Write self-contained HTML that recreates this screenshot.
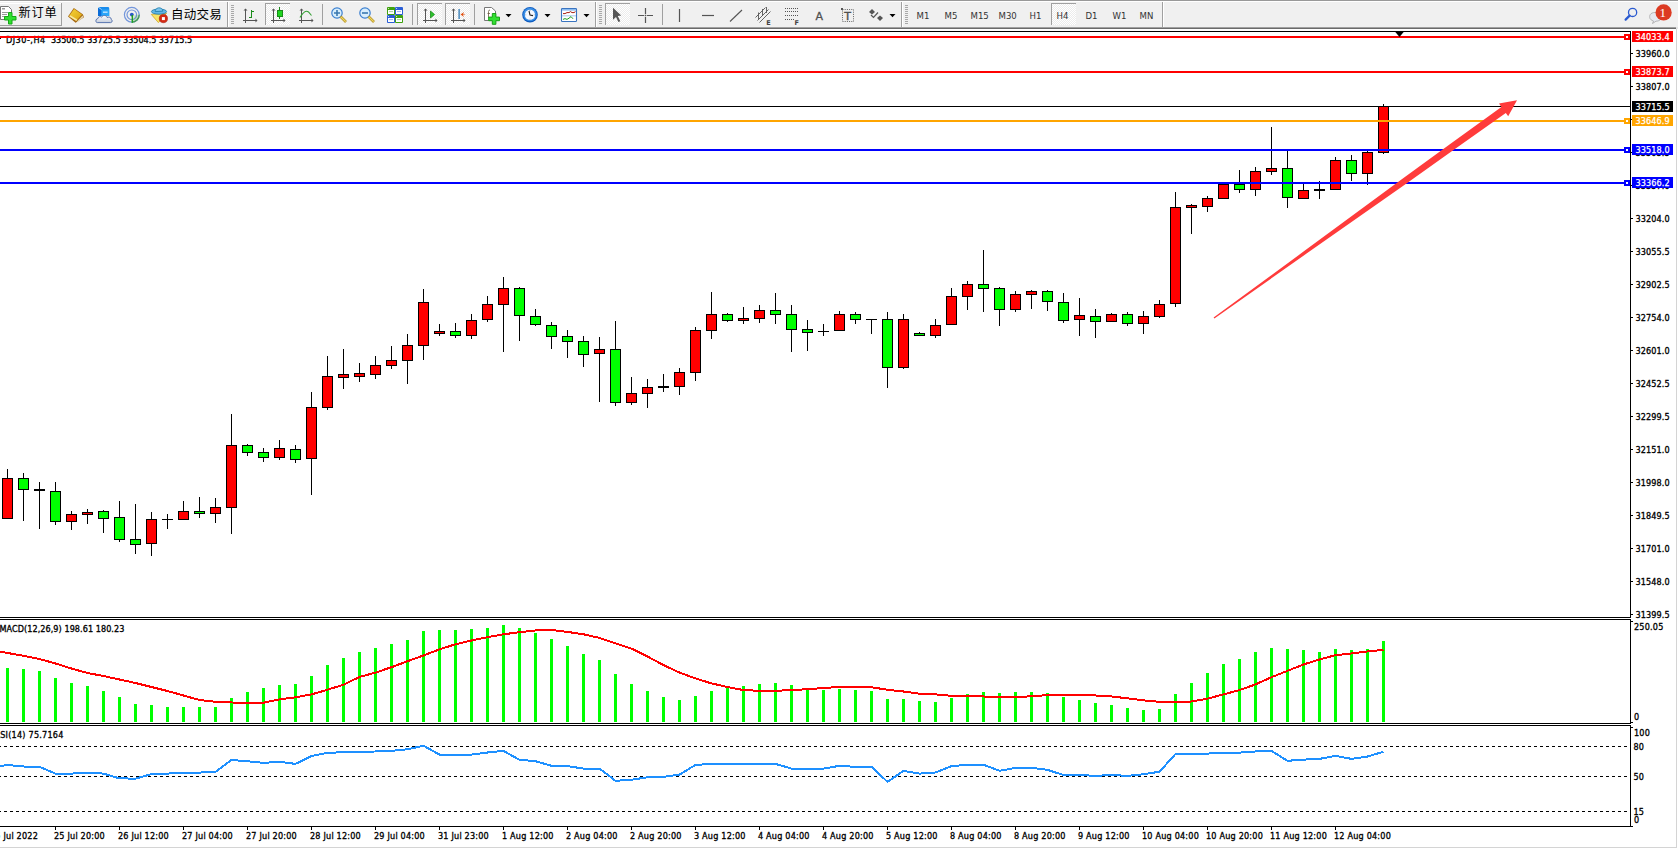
<!DOCTYPE html>
<html><head><meta charset="utf-8"><title>MT4 DJ30 H4</title>
<style>
html,body{margin:0;padding:0;background:#fff;}
body{width:1678px;height:849px;overflow:hidden;position:relative;}
svg{position:absolute;left:0;top:0;display:block;}
#chart text[fill="#000"]{stroke:#000;stroke-width:.3px;}
#chart text[fill="#fff"]{stroke:#fff;stroke-width:.25px;}
</style></head><body>
<svg width="1678" height="849" viewBox="0 0 1678 849" shape-rendering="crispEdges">
<rect x="0" y="0" width="1678" height="849" fill="#fff"/>
<g id="toolbar">
<rect x="0" y="0" width="1678" height="1" fill="#999"/>
<rect x="0" y="1" width="1678" height="1" fill="#fff"/>
<rect x="0" y="2" width="1678" height="25" fill="#f0f0f0"/>
<rect x="0" y="27" width="1676" height="1" fill="#a0a0a0"/>
<rect x="0" y="28" width="1676" height="1" fill="#6a6a6a"/>
<rect x="1676" y="27" width="2" height="2" fill="#e4e4e4"/>
<g shape-rendering="auto">
<!-- 新订单 button -->
<rect x="0" y="3" width="61" height="1" fill="#ffffff" shape-rendering="crispEdges"/>
<rect x="61" y="3" width="1" height="23" fill="#a0a0a0" shape-rendering="crispEdges"/>
<rect x="0" y="25" width="61" height="1" fill="#a0a0a0" shape-rendering="crispEdges"/>
<path d="M0.5,6.5 H8.5 L11.5,9.5 V19.5 H0.5 Z" fill="#fff" stroke="#777" stroke-width="1"/>
<rect x="2" y="8" width="3" height="1.5" fill="#999"/>
<rect x="2" y="12" width="6" height="1" fill="#999"/>
<rect x="2" y="14" width="5" height="1" fill="#999"/>
<rect x="2" y="16" width="3" height="1" fill="#999"/>
<path d="M8.5,12.5 h3.5 v4 h4 v3.5 h-4 v4 h-3.5 v-4 h-4 v-3.5 h4 z" fill="#2fe02f" stroke="#14a614" stroke-width="1"/>
<text x="18.5" y="16.7" font-family="'Noto Sans CJK SC',sans-serif" font-size="12.2px" letter-spacing="0.8" fill="#000">新订单</text>
<!-- gold book -->
<defs>
<linearGradient id="gbk" x1="0" y1="0" x2="1" y2="1"><stop offset="0" stop-color="#f6d23a"/><stop offset="1" stop-color="#d9a512"/></linearGradient>
<linearGradient id="cld" x1="0" y1="0" x2="0" y2="1"><stop offset="0" stop-color="#ffffff"/><stop offset="1" stop-color="#c4cddc"/></linearGradient>
</defs>
<path d="M68,16.6 L73.8,8 L82.8,14.2 L84,17.2 L75.6,22.8 Z" fill="#a86a12"/>
<path d="M69,16.2 L74.1,9 L82,14.4 L76.2,20.8 Z" fill="url(#gbk)"/>
<path d="M69.3,16.6 L70.3,15.2 L77.3,19.6 L76.3,21 Z" fill="#f8e7a0"/>
<path d="M77,21.6 L82.6,15.4 L83.5,17 L77.6,22.3 Z" fill="#e6d8b0"/>
<!-- blue box + cloud -->
<path d="M98,8 L99.5,7 L108.5,7 L109.2,8 L109.2,16 L98,16 Z" fill="#1a8cec"/>
<path d="M98,8 L101.5,9.5 L101.5,16 L98,16 Z" fill="#0a6cd8"/>
<path d="M101.5,9.5 L109.2,9.5 L109.2,16 L101.5,16 Z" fill="#2aa6fa"/>
<path d="M98.8,7.6 L101.6,9.6" stroke="#d8f0ff" stroke-width="0.7"/>
<rect x="103" y="11.6" width="4.6" height="1.1" fill="#e8f6ff"/>
<path d="M97.3,22.6 C95.3,22.6 95.4,18.7 97.9,18.5 C98.2,16.6 100.6,16 101.6,17.2 C102.4,14.8 106.6,14.8 107.3,17.6 C108.4,16.6 111.4,17.2 111.3,19.4 C112.6,20 112.4,22.6 110.6,22.6 Z" fill="url(#cld)" stroke="#4a68a8" stroke-width="0.9"/>
<!-- signal -->
<defs><linearGradient id="sgq" x1="0" y1="0" x2="1" y2="1"><stop offset="0" stop-color="#e8f4e0"/><stop offset="1" stop-color="#7cc86c"/></linearGradient></defs>
<path d="M131.8,14.8 L131.8,22.8 A8,8 0 0 0 139.8,14.8 Z" fill="url(#sgq)" opacity="0.85"/>
<circle cx="131.8" cy="14.8" r="7.4" fill="none" stroke="#4a78d4" stroke-width="1.2" opacity="0.75"/>
<circle cx="131.8" cy="14.8" r="4.8" fill="none" stroke="#4a78d4" stroke-width="1.2" opacity="0.75"/>
<path d="M131.8,22.2 A7.4,7.4 0 0 0 139.2,14.8" fill="none" stroke="#3c9a3c" stroke-width="1.2" opacity="0.8"/>
<circle cx="131.8" cy="14.6" r="1.9" fill="#2a58c8"/>
<path d="M132.3,15 V22.8" stroke="#1ea01e" stroke-width="1.4"/>
<!-- auto trading -->
<path d="M151.3,14.4 L166.6,13.2 L158.4,22.6 Z" fill="#f8e468" stroke="#d2a624" stroke-width="0.8" stroke-linejoin="round"/>
<ellipse cx="159" cy="11.6" rx="7.6" ry="2.6" fill="#62b6e6" stroke="#1a78a8" stroke-width="0.8"/>
<path d="M155.2,11.6 C155.2,6.6 162.8,6.6 162.8,11.2 Z" fill="#7cc6ee" stroke="#1a78a8" stroke-width="0.8"/>
<circle cx="163.4" cy="18.6" r="4.1" fill="#d42a14" stroke="#a81a0c" stroke-width="0.6"/>
<rect x="161.9" y="17.1" width="3" height="3" fill="#fff"/>
<text x="170.9" y="18.8" font-family="'Noto Sans CJK SC',sans-serif" font-size="12.5px" letter-spacing="0.3" fill="#000">自动交易</text>
</g>
<g shape-rendering="crispEdges">
<!-- separators -->
<rect x="227" y="2" width="1" height="25" fill="#a0a0a0"/><rect x="228" y="2" width="1" height="25" fill="#fff"/>
<rect x="322" y="4" width="1" height="21" fill="#a0a0a0"/>
<rect x="412" y="4" width="1" height="21" fill="#a0a0a0"/>
<rect x="474" y="4" width="1" height="21" fill="#a0a0a0"/>
<rect x="595" y="2" width="1" height="25" fill="#a0a0a0"/><rect x="596" y="2" width="1" height="25" fill="#fff"/>
<rect x="662" y="4" width="1" height="21" fill="#a0a0a0"/>
<rect x="901" y="2" width="1" height="25" fill="#a0a0a0"/><rect x="902" y="2" width="1" height="25" fill="#fff"/>
<rect x="1162" y="2" width="1" height="25" fill="#a0a0a0"/><rect x="1163" y="2" width="1" height="25" fill="#fff"/>
<!-- grippers -->
<g fill="#a8a8a8">
<rect x="231" y="5" width="3" height="1"/><rect x="231" y="7" width="3" height="1"/><rect x="231" y="9" width="3" height="1"/><rect x="231" y="11" width="3" height="1"/><rect x="231" y="13" width="3" height="1"/><rect x="231" y="15" width="3" height="1"/><rect x="231" y="17" width="3" height="1"/><rect x="231" y="19" width="3" height="1"/><rect x="231" y="21" width="3" height="1"/><rect x="231" y="23" width="3" height="1"/>
<rect x="599" y="5" width="3" height="1"/><rect x="599" y="7" width="3" height="1"/><rect x="599" y="9" width="3" height="1"/><rect x="599" y="11" width="3" height="1"/><rect x="599" y="13" width="3" height="1"/><rect x="599" y="15" width="3" height="1"/><rect x="599" y="17" width="3" height="1"/><rect x="599" y="19" width="3" height="1"/><rect x="599" y="21" width="3" height="1"/><rect x="599" y="23" width="3" height="1"/>
<rect x="905" y="5" width="3" height="1"/><rect x="905" y="7" width="3" height="1"/><rect x="905" y="9" width="3" height="1"/><rect x="905" y="11" width="3" height="1"/><rect x="905" y="13" width="3" height="1"/><rect x="905" y="15" width="3" height="1"/><rect x="905" y="17" width="3" height="1"/><rect x="905" y="19" width="3" height="1"/><rect x="905" y="21" width="3" height="1"/><rect x="905" y="23" width="3" height="1"/>
</g>
<!-- pressed buttons -->
<defs><pattern id="chk" x="0" y="0" width="2" height="2" patternUnits="userSpaceOnUse"><rect width="2" height="2" fill="#fff"/><rect x="1" y="0" width="1" height="1" fill="#ececec"/><rect x="0" y="1" width="1" height="1" fill="#ececec"/></pattern></defs>
<g>
<rect x="265" y="3" width="25" height="22" fill="url(#chk)"/><rect x="265" y="3" width="25" height="1" fill="#a0a0a0"/><rect x="265" y="3" width="1" height="22" fill="#a0a0a0"/>
<rect x="417" y="3" width="25" height="22" fill="url(#chk)"/><rect x="417" y="3" width="25" height="1" fill="#a0a0a0"/><rect x="417" y="3" width="1" height="22" fill="#a0a0a0"/>
<rect x="445" y="3" width="25" height="22" fill="url(#chk)"/><rect x="445" y="3" width="25" height="1" fill="#a0a0a0"/><rect x="445" y="3" width="1" height="22" fill="#a0a0a0"/>
<rect x="605" y="3" width="25" height="22" fill="url(#chk)"/><rect x="605" y="3" width="25" height="1" fill="#a0a0a0"/><rect x="605" y="3" width="1" height="22" fill="#a0a0a0"/>
<rect x="1051" y="3" width="25" height="22" fill="url(#chk)"/><rect x="1051" y="3" width="25" height="1" fill="#a0a0a0"/><rect x="1051" y="3" width="1" height="22" fill="#a0a0a0"/>
</g>
<!-- chart type icons: axes -->
<g fill="#555">
<rect x="245" y="10" width="1" height="13"/><rect x="243" y="20" width="14" height="1"/>
<rect x="273" y="10" width="1" height="13"/><rect x="271" y="20" width="14" height="1"/>
<rect x="301" y="10" width="1" height="13"/><rect x="299" y="20" width="14" height="1"/>
<rect x="425" y="10" width="1" height="13"/><rect x="423" y="20" width="14" height="1"/>
<rect x="453" y="10" width="1" height="13"/><rect x="451" y="20" width="14" height="1"/>
</g>
<!-- bar chart glyph -->
<g fill="#1a8c1a"><rect x="251" y="10" width="1" height="8"/><rect x="252" y="11" width="2" height="1"/><rect x="249" y="17" width="2" height="1"/></g>
<!-- candle glyph -->
<rect x="279" y="7" width="1" height="12" fill="#1a8c1a"/>
<rect x="277" y="10" width="5" height="6" fill="#22d622" stroke="#1a8c1a" stroke-width="1"/>
</g>
<g shape-rendering="auto">
<!-- line chart glyph -->
<path d="M300,17.5 Q305,9 308.5,12 L311.5,15.5" fill="none" stroke="#33a033" stroke-width="1.1"/>
<!-- axes arrows -->
<g fill="#555">
<path d="M243.5,10.5 L245.5,8.5 L247.5,10.5 Z"/><path d="M255.5,18.5 L257.5,20.5 L255.5,22.5 Z"/>
<path d="M271.5,10.5 L273.5,8.5 L275.5,10.5 Z"/><path d="M283.5,18.5 L285.5,20.5 L283.5,22.5 Z"/>
<path d="M299.5,10.5 L301.5,8.5 L303.5,10.5 Z"/><path d="M311.5,18.5 L313.5,20.5 L311.5,22.5 Z"/>
<path d="M423.5,10.5 L425.5,8.5 L427.5,10.5 Z"/><path d="M435.5,18.5 L437.5,20.5 L435.5,22.5 Z"/>
<path d="M451.5,10.5 L453.5,8.5 L455.5,10.5 Z"/><path d="M463.5,18.5 L465.5,20.5 L463.5,22.5 Z"/>
</g>
<!-- zoom in / out -->
<circle cx="337" cy="13" r="5.2" fill="#d8eefc" stroke="#3a7fd0" stroke-width="1.2"/>
<path d="M340.5,16.5 L346,22" stroke="#b8962a" stroke-width="2.6"/><path d="M340.8,16.8 L345.7,21.7" stroke="#f0d860" stroke-width="1.2"/>
<path d="M334,13 h6 M337,10 v6" stroke="#3a78b0" stroke-width="1.6"/>
<circle cx="365" cy="13" r="5.2" fill="#d8eefc" stroke="#3a7fd0" stroke-width="1.2"/>
<path d="M368.5,16.5 L374,22" stroke="#b8962a" stroke-width="2.6"/><path d="M368.8,16.8 L373.7,21.7" stroke="#f0d860" stroke-width="1.2"/>
<path d="M362,13 h6" stroke="#3a78b0" stroke-width="1.6"/>
<!-- tile windows -->
<rect x="387" y="7" width="8" height="8" rx="1" fill="#3fa20e"/><rect x="395" y="7" width="8" height="8" rx="1" fill="#2a5ed6"/>
<rect x="387" y="15" width="8" height="8" rx="1" fill="#2a5ed6"/><rect x="395" y="15" width="8" height="8" rx="1" fill="#3fa20e"/>
<g fill="#fff"><rect x="388" y="10" width="6" height="4"/><rect x="396" y="10" width="6" height="4"/><rect x="388" y="18" width="6" height="4"/><rect x="396" y="18" width="6" height="4"/>
<circle cx="388.6" cy="8.4" r="0.5"/><circle cx="396.6" cy="8.4" r="0.5"/><circle cx="388.6" cy="16.4" r="0.5"/><circle cx="396.6" cy="16.4" r="0.5"/></g>
<g fill="#9ccc88"><rect x="389" y="11.2" width="4" height="0.9"/><rect x="397" y="19.2" width="4" height="0.9"/></g>
<g fill="#8aa6e8"><rect x="397" y="11.2" width="4" height="0.9"/><rect x="389" y="19.2" width="4" height="0.9"/></g>
<!-- autoscroll glyph -->
<path d="M430.5,11 L434.5,14.5 L430.5,18 Z" fill="#2ec42e" stroke="#1a8c1a" stroke-width="0.8"/>
<!-- shift glyph -->
<rect x="458.5" y="9" width="1.2" height="10" fill="#1f6fb0"/>
<path d="M460.5,14.5 L464,12 L463,14.5 L465,14.5 L465,15 L463,15 L464,17 Z" fill="#e05010"/>
<!-- indicators icon -->
<path d="M484.5,7.5 H491.5 L495.5,11 V20.5 H484.5 Z" fill="#fff" stroke="#777"/>
<path d="M488.5,18 V11.5 Q488.5,10 490,10 M487.5,13.5 H490" fill="none" stroke="#6a5a40" stroke-width="0.8"/>
<path d="M492.3,13.5 h3.6 v3.6 h3.6 v3.6 h-3.6 v3.6 h-3.6 v-3.6 h-3.6 v-3.6 h3.6 z" fill="#32e032" stroke="#16a016"/>
<path d="M505.5,14 h6 l-3,3.2 z" fill="#000"/>
<!-- clock -->
<circle cx="530" cy="14.8" r="7.8" fill="#0f5cc0"/><circle cx="530" cy="14.5" r="6.8" fill="#3a8ee4"/><circle cx="530" cy="14.9" r="5.1" fill="#f6f9ff"/>
<g fill="#7a8aa0"><rect x="529.6" y="10.2" width="0.8" height="0.8"/><rect x="529.6" y="18.8" width="0.8" height="0.8"/><rect x="525.4" y="14.5" width="0.8" height="0.8"/><rect x="533.8" y="14.5" width="0.8" height="0.8"/></g>
<path d="M529,11 L530,15 L533,15.6" fill="none" stroke="#222" stroke-width="1.1"/>
<path d="M544.5,14 h6 l-3,3.2 z" fill="#000"/>
<!-- templates -->
<rect x="561.5" y="8.5" width="15" height="13" rx="0.8" fill="#fff" stroke="#3a74c0" stroke-width="1.1"/>
<rect x="562" y="9" width="14" height="1.6" fill="#8cbcf0"/>
<rect x="562" y="15.4" width="14" height="0.9" fill="#9cc0e8"/>
<path d="M563,13.6 l2,0 l2,-1 l2,0 l1.5,-1 l1.5,1 l2,0 l1.5,-1" fill="none" stroke="#a82010" stroke-width="1"/>
<path d="M563,19.4 l2,-0.8 l2,0.8 l2,-1.2 l2,-1.6 l2,2.2" fill="none" stroke="#20a020" stroke-width="1"/>
<path d="M583.5,14 h6 l-3,3.2 z" fill="#000"/>
<!-- cursor -->
<path d="M613,7.8 L621.2,15.6 L617.8,15.9 L620.3,21.2 L618.4,22.1 L616,16.9 L613,19.8 Z" fill="#555"/>
<!-- crosshair -->
<path d="M645.5,8 V14.3 M645.5,16.7 V23 M638,15.5 H644.3 M646.7,15.5 H653" stroke="#555" stroke-width="1.2"/><rect x="645" y="15" width="1" height="1" fill="#555"/>
<!-- vertical / horizontal / trend lines -->
<path d="M679.5,9 V22" stroke="#555" stroke-width="1.2"/>
<path d="M702,15.5 H714" stroke="#555" stroke-width="1.2"/>
<path d="M730,21.5 L742,10" stroke="#555" stroke-width="1.1"/>
<!-- channel E -->
<path d="M755.5,17.5 L765.5,7.5 M757.5,20.5 L768.5,9.5 M759.5,22.5 L770.5,11.5" stroke="#555" stroke-width="0.9"/>
<path d="M758.5,12.5 V19 M762.5,9 V16 M766.5,7 V13" stroke="#555" stroke-width="0.9"/>
<text x="766.2" y="24.6" font-family="'DejaVu Sans',sans-serif" font-weight="bold" font-size="6.5px" fill="#444">E</text>
<!-- fibo F -->
<g stroke="#555" stroke-width="1" stroke-dasharray="1,1"><path d="M785,8.5 H798"/><path d="M785,11.5 H798"/><path d="M785,15.5 H798"/><path d="M785,19.5 H794"/></g>
<text x="794.5" y="24.5" font-family="'DejaVu Sans',sans-serif" font-weight="bold" font-size="6.5px" fill="#444">F</text>
<!-- A -->
<text x="815.6" y="20" font-family="'DejaVu Sans',sans-serif" font-size="11px" fill="#505050" stroke="#505050" stroke-width="0.3">A</text>
<!-- T label -->
<rect x="842.5" y="9.5" width="11" height="12" fill="none" stroke="#555" stroke-width="0.9" stroke-dasharray="1,1.2"/>
<rect x="841" y="8" width="2" height="2" fill="#555"/>
<text x="844.3" y="20" font-family="'DejaVu Sans',sans-serif" font-size="11px" fill="#505050" stroke="#505050" stroke-width="0.4">T</text>
<!-- arrows icon -->
<path d="M869,12 L872,9 L875,12 L872,14.5 Z" fill="#555"/>
<path d="M877,18 L880,15.5 L883,18 L880,21 Z" fill="#555"/>
<path d="M871,15 L873.5,17.5 L878,12.5" fill="none" stroke="#555" stroke-width="1.2"/>
<path d="M889.5,14 h6 l-3,3.2 z" fill="#000"/>
</g>
<!-- timeframes -->
<g font-family="'DejaVu Sans Condensed','Liberation Sans',sans-serif" font-size="9.5px" fill="#333">
<text x="916.5" y="19">M1</text><text x="944.5" y="19">M5</text><text x="970.5" y="19">M15</text><text x="998.5" y="19">M30</text>
<text x="1029.5" y="19">H1</text><text x="1056.5" y="19">H4</text><text x="1085.5" y="19">D1</text><text x="1112.5" y="19">W1</text><text x="1139.5" y="19">MN</text>
</g>
<!-- search -->
<g shape-rendering="auto">
<circle cx="1632.6" cy="12.4" r="4.1" fill="none" stroke="#2a5ad0" stroke-width="1.3"/>
<path d="M1629.6,15.6 L1625.6,19.6" stroke="#2a5ad0" stroke-width="2.2" stroke-linecap="round"/>
<!-- notification -->
<path d="M1655,12.5 C1650,12.5 1649,16 1650,18.5 C1651,20.5 1653,20.5 1653.5,21 L1652.5,23.5 L1656,21.2 C1659,21.3 1661.5,19.5 1661.5,17 C1661.5,14 1659,12.5 1655,12.5 Z" fill="#e6e8f0" stroke="#a8a8a8" stroke-width="0.8"/>
<circle cx="1663.6" cy="12.4" r="8.1" fill="#dc3a22"/>
<text x="1659.6" y="17.2" font-family="'Liberation Serif',serif" font-size="13px" fill="#fff">1</text>
</g>

</g>
<g id="chart">
<rect x="0" y="31" width="1630" height="1" fill="#000"/>
<rect x="1630" y="31" width="1" height="587" fill="#000"/>
<rect x="0" y="617" width="1630" height="1" fill="#000"/>
<rect x="0" y="619" width="1631" height="1" fill="#000"/>
<rect x="1630" y="619" width="1" height="105" fill="#000"/>
<rect x="0" y="723" width="1630" height="1" fill="#000"/>
<rect x="0" y="725" width="1631" height="1" fill="#000"/>
<rect x="1630" y="725" width="1" height="102" fill="#000"/>
<rect x="0" y="826" width="1630" height="1" fill="#000"/>
<rect x="0" y="38" width="1" height="1" fill="#000"/>
<text x="6.0" y="43" font-family="'DejaVu Sans Condensed','Liberation Sans',sans-serif" font-size="9px" letter-spacing="0.5" fill="#000">DJ30-,H4</text>
<text x="50.9" y="43" font-family="'DejaVu Sans Condensed','Liberation Sans',sans-serif" font-size="9px" letter-spacing="0" fill="#000">33506.5</text>
<text x="87.2" y="43" font-family="'DejaVu Sans Condensed','Liberation Sans',sans-serif" font-size="9px" letter-spacing="0" fill="#000">33725.5</text>
<text x="123.0" y="43" font-family="'DejaVu Sans Condensed','Liberation Sans',sans-serif" font-size="9px" letter-spacing="0" fill="#000">33504.5</text>
<text x="158.7" y="43" font-family="'DejaVu Sans Condensed','Liberation Sans',sans-serif" font-size="9px" letter-spacing="0" fill="#000">33715.5</text>
<rect x="7" y="469" width="1" height="50" fill="#000"/>
<rect x="2" y="478" width="11" height="41" fill="#000"/>
<rect x="3" y="479" width="9" height="39" fill="#ff0000"/>
<rect x="23" y="473" width="1" height="48" fill="#000"/>
<rect x="18" y="478" width="11" height="12" fill="#000"/>
<rect x="19" y="479" width="9" height="10" fill="#00ff00"/>
<rect x="39" y="482" width="1" height="47" fill="#000"/>
<rect x="34" y="489" width="11" height="2" fill="#000"/>
<rect x="55" y="482" width="1" height="43" fill="#000"/>
<rect x="50" y="491" width="11" height="31" fill="#000"/>
<rect x="51" y="492" width="9" height="29" fill="#00ff00"/>
<rect x="71" y="511" width="1" height="19" fill="#000"/>
<rect x="66" y="514" width="11" height="8" fill="#000"/>
<rect x="67" y="515" width="9" height="6" fill="#ff0000"/>
<rect x="87" y="509" width="1" height="15" fill="#000"/>
<rect x="82" y="512" width="11" height="3" fill="#000"/>
<rect x="83" y="513" width="9" height="1" fill="#ff0000"/>
<rect x="103" y="510" width="1" height="23" fill="#000"/>
<rect x="98" y="511" width="11" height="8" fill="#000"/>
<rect x="99" y="512" width="9" height="6" fill="#00ff00"/>
<rect x="119" y="501" width="1" height="41" fill="#000"/>
<rect x="114" y="517" width="11" height="23" fill="#000"/>
<rect x="115" y="518" width="9" height="21" fill="#00ff00"/>
<rect x="135" y="504" width="1" height="50" fill="#000"/>
<rect x="130" y="539" width="11" height="6" fill="#000"/>
<rect x="131" y="540" width="9" height="4" fill="#00ff00"/>
<rect x="151" y="512" width="1" height="44" fill="#000"/>
<rect x="146" y="519" width="11" height="25" fill="#000"/>
<rect x="147" y="520" width="9" height="23" fill="#ff0000"/>
<rect x="167" y="514" width="1" height="15" fill="#000"/>
<rect x="162" y="519" width="11" height="1" fill="#000"/>
<rect x="183" y="501" width="1" height="18" fill="#000"/>
<rect x="178" y="511" width="11" height="9" fill="#000"/>
<rect x="179" y="512" width="9" height="7" fill="#ff0000"/>
<rect x="199" y="497" width="1" height="21" fill="#000"/>
<rect x="194" y="511" width="11" height="3" fill="#000"/>
<rect x="195" y="512" width="9" height="1" fill="#00ff00"/>
<rect x="215" y="498" width="1" height="25" fill="#000"/>
<rect x="210" y="507" width="11" height="7" fill="#000"/>
<rect x="211" y="508" width="9" height="5" fill="#ff0000"/>
<rect x="231" y="414" width="1" height="120" fill="#000"/>
<rect x="226" y="445" width="11" height="63" fill="#000"/>
<rect x="227" y="446" width="9" height="61" fill="#ff0000"/>
<rect x="247" y="444" width="1" height="12" fill="#000"/>
<rect x="242" y="445" width="11" height="8" fill="#000"/>
<rect x="243" y="446" width="9" height="6" fill="#00ff00"/>
<rect x="263" y="448" width="1" height="14" fill="#000"/>
<rect x="258" y="452" width="11" height="6" fill="#000"/>
<rect x="259" y="453" width="9" height="4" fill="#00ff00"/>
<rect x="279" y="440" width="1" height="20" fill="#000"/>
<rect x="274" y="448" width="11" height="10" fill="#000"/>
<rect x="275" y="449" width="9" height="8" fill="#ff0000"/>
<rect x="295" y="445" width="1" height="18" fill="#000"/>
<rect x="290" y="449" width="11" height="11" fill="#000"/>
<rect x="291" y="450" width="9" height="9" fill="#00ff00"/>
<rect x="311" y="392" width="1" height="103" fill="#000"/>
<rect x="306" y="407" width="11" height="52" fill="#000"/>
<rect x="307" y="408" width="9" height="50" fill="#ff0000"/>
<rect x="327" y="356" width="1" height="54" fill="#000"/>
<rect x="322" y="376" width="11" height="32" fill="#000"/>
<rect x="323" y="377" width="9" height="30" fill="#ff0000"/>
<rect x="343" y="349" width="1" height="40" fill="#000"/>
<rect x="338" y="374" width="11" height="4" fill="#000"/>
<rect x="339" y="375" width="9" height="2" fill="#ff0000"/>
<rect x="359" y="363" width="1" height="19" fill="#000"/>
<rect x="354" y="373" width="11" height="4" fill="#000"/>
<rect x="355" y="374" width="9" height="2" fill="#ff0000"/>
<rect x="375" y="356" width="1" height="23" fill="#000"/>
<rect x="370" y="365" width="11" height="10" fill="#000"/>
<rect x="371" y="366" width="9" height="8" fill="#ff0000"/>
<rect x="391" y="346" width="1" height="23" fill="#000"/>
<rect x="386" y="360" width="11" height="6" fill="#000"/>
<rect x="387" y="361" width="9" height="4" fill="#ff0000"/>
<rect x="407" y="334" width="1" height="50" fill="#000"/>
<rect x="402" y="345" width="11" height="16" fill="#000"/>
<rect x="403" y="346" width="9" height="14" fill="#ff0000"/>
<rect x="423" y="289" width="1" height="71" fill="#000"/>
<rect x="418" y="302" width="11" height="44" fill="#000"/>
<rect x="419" y="303" width="9" height="42" fill="#ff0000"/>
<rect x="439" y="324" width="1" height="12" fill="#000"/>
<rect x="434" y="331" width="11" height="3" fill="#000"/>
<rect x="435" y="332" width="9" height="1" fill="#ff0000"/>
<rect x="455" y="323" width="1" height="15" fill="#000"/>
<rect x="450" y="331" width="11" height="5" fill="#000"/>
<rect x="451" y="332" width="9" height="3" fill="#00ff00"/>
<rect x="471" y="314" width="1" height="25" fill="#000"/>
<rect x="466" y="320" width="11" height="16" fill="#000"/>
<rect x="467" y="321" width="9" height="14" fill="#ff0000"/>
<rect x="487" y="296" width="1" height="26" fill="#000"/>
<rect x="482" y="304" width="11" height="16" fill="#000"/>
<rect x="483" y="305" width="9" height="14" fill="#ff0000"/>
<rect x="503" y="277" width="1" height="75" fill="#000"/>
<rect x="498" y="288" width="11" height="17" fill="#000"/>
<rect x="499" y="289" width="9" height="15" fill="#ff0000"/>
<rect x="519" y="287" width="1" height="54" fill="#000"/>
<rect x="514" y="288" width="11" height="28" fill="#000"/>
<rect x="515" y="289" width="9" height="26" fill="#00ff00"/>
<rect x="535" y="309" width="1" height="17" fill="#000"/>
<rect x="530" y="316" width="11" height="9" fill="#000"/>
<rect x="531" y="317" width="9" height="7" fill="#00ff00"/>
<rect x="551" y="322" width="1" height="27" fill="#000"/>
<rect x="546" y="325" width="11" height="12" fill="#000"/>
<rect x="547" y="326" width="9" height="10" fill="#00ff00"/>
<rect x="567" y="330" width="1" height="28" fill="#000"/>
<rect x="562" y="336" width="11" height="6" fill="#000"/>
<rect x="563" y="337" width="9" height="4" fill="#00ff00"/>
<rect x="583" y="336" width="1" height="31" fill="#000"/>
<rect x="578" y="341" width="11" height="14" fill="#000"/>
<rect x="579" y="342" width="9" height="12" fill="#00ff00"/>
<rect x="599" y="337" width="1" height="65" fill="#000"/>
<rect x="594" y="349" width="11" height="5" fill="#000"/>
<rect x="595" y="350" width="9" height="3" fill="#ff0000"/>
<rect x="615" y="321" width="1" height="85" fill="#000"/>
<rect x="610" y="349" width="11" height="54" fill="#000"/>
<rect x="611" y="350" width="9" height="52" fill="#00ff00"/>
<rect x="631" y="377" width="1" height="28" fill="#000"/>
<rect x="626" y="393" width="11" height="10" fill="#000"/>
<rect x="627" y="394" width="9" height="8" fill="#ff0000"/>
<rect x="647" y="379" width="1" height="29" fill="#000"/>
<rect x="642" y="387" width="11" height="7" fill="#000"/>
<rect x="643" y="388" width="9" height="5" fill="#ff0000"/>
<rect x="663" y="374" width="1" height="18" fill="#000"/>
<rect x="658" y="386" width="11" height="2" fill="#000"/>
<rect x="679" y="368" width="1" height="27" fill="#000"/>
<rect x="674" y="372" width="11" height="15" fill="#000"/>
<rect x="675" y="373" width="9" height="13" fill="#ff0000"/>
<rect x="695" y="327" width="1" height="54" fill="#000"/>
<rect x="690" y="330" width="11" height="43" fill="#000"/>
<rect x="691" y="331" width="9" height="41" fill="#ff0000"/>
<rect x="711" y="292" width="1" height="47" fill="#000"/>
<rect x="706" y="314" width="11" height="17" fill="#000"/>
<rect x="707" y="315" width="9" height="15" fill="#ff0000"/>
<rect x="727" y="313" width="1" height="9" fill="#000"/>
<rect x="722" y="314" width="11" height="7" fill="#000"/>
<rect x="723" y="315" width="9" height="5" fill="#00ff00"/>
<rect x="743" y="307" width="1" height="17" fill="#000"/>
<rect x="738" y="318" width="11" height="3" fill="#000"/>
<rect x="739" y="319" width="9" height="1" fill="#ff0000"/>
<rect x="759" y="305" width="1" height="18" fill="#000"/>
<rect x="754" y="310" width="11" height="9" fill="#000"/>
<rect x="755" y="311" width="9" height="7" fill="#ff0000"/>
<rect x="775" y="293" width="1" height="31" fill="#000"/>
<rect x="770" y="310" width="11" height="5" fill="#000"/>
<rect x="771" y="311" width="9" height="3" fill="#00ff00"/>
<rect x="791" y="305" width="1" height="47" fill="#000"/>
<rect x="786" y="314" width="11" height="16" fill="#000"/>
<rect x="787" y="315" width="9" height="14" fill="#00ff00"/>
<rect x="807" y="320" width="1" height="31" fill="#000"/>
<rect x="802" y="329" width="11" height="4" fill="#000"/>
<rect x="803" y="330" width="9" height="2" fill="#00ff00"/>
<rect x="823" y="324" width="1" height="12" fill="#000"/>
<rect x="818" y="331" width="11" height="1" fill="#000"/>
<rect x="839" y="311" width="1" height="20" fill="#000"/>
<rect x="834" y="314" width="11" height="17" fill="#000"/>
<rect x="835" y="315" width="9" height="15" fill="#ff0000"/>
<rect x="855" y="312" width="1" height="12" fill="#000"/>
<rect x="850" y="314" width="11" height="6" fill="#000"/>
<rect x="851" y="315" width="9" height="4" fill="#00ff00"/>
<rect x="871" y="319" width="1" height="15" fill="#000"/>
<rect x="866" y="319" width="11" height="1" fill="#000"/>
<rect x="887" y="312" width="1" height="76" fill="#000"/>
<rect x="882" y="319" width="11" height="49" fill="#000"/>
<rect x="883" y="320" width="9" height="47" fill="#00ff00"/>
<rect x="903" y="314" width="1" height="55" fill="#000"/>
<rect x="898" y="319" width="11" height="49" fill="#000"/>
<rect x="899" y="320" width="9" height="47" fill="#ff0000"/>
<rect x="919" y="332" width="1" height="4" fill="#000"/>
<rect x="914" y="333" width="11" height="3" fill="#000"/>
<rect x="915" y="334" width="9" height="1" fill="#00ff00"/>
<rect x="935" y="319" width="1" height="19" fill="#000"/>
<rect x="930" y="325" width="11" height="11" fill="#000"/>
<rect x="931" y="326" width="9" height="9" fill="#ff0000"/>
<rect x="951" y="288" width="1" height="36" fill="#000"/>
<rect x="946" y="296" width="11" height="29" fill="#000"/>
<rect x="947" y="297" width="9" height="27" fill="#ff0000"/>
<rect x="967" y="281" width="1" height="29" fill="#000"/>
<rect x="962" y="284" width="11" height="13" fill="#000"/>
<rect x="963" y="285" width="9" height="11" fill="#ff0000"/>
<rect x="983" y="250" width="1" height="62" fill="#000"/>
<rect x="978" y="284" width="11" height="5" fill="#000"/>
<rect x="979" y="285" width="9" height="3" fill="#00ff00"/>
<rect x="999" y="287" width="1" height="39" fill="#000"/>
<rect x="994" y="288" width="11" height="22" fill="#000"/>
<rect x="995" y="289" width="9" height="20" fill="#00ff00"/>
<rect x="1015" y="291" width="1" height="21" fill="#000"/>
<rect x="1010" y="294" width="11" height="16" fill="#000"/>
<rect x="1011" y="295" width="9" height="14" fill="#ff0000"/>
<rect x="1031" y="290" width="1" height="19" fill="#000"/>
<rect x="1026" y="291" width="11" height="4" fill="#000"/>
<rect x="1027" y="292" width="9" height="2" fill="#ff0000"/>
<rect x="1047" y="290" width="1" height="21" fill="#000"/>
<rect x="1042" y="291" width="11" height="11" fill="#000"/>
<rect x="1043" y="292" width="9" height="9" fill="#00ff00"/>
<rect x="1063" y="293" width="1" height="30" fill="#000"/>
<rect x="1058" y="302" width="11" height="19" fill="#000"/>
<rect x="1059" y="303" width="9" height="17" fill="#00ff00"/>
<rect x="1079" y="298" width="1" height="38" fill="#000"/>
<rect x="1074" y="315" width="11" height="5" fill="#000"/>
<rect x="1075" y="316" width="9" height="3" fill="#ff0000"/>
<rect x="1095" y="309" width="1" height="29" fill="#000"/>
<rect x="1090" y="316" width="11" height="6" fill="#000"/>
<rect x="1091" y="317" width="9" height="4" fill="#00ff00"/>
<rect x="1111" y="313" width="1" height="8" fill="#000"/>
<rect x="1106" y="314" width="11" height="8" fill="#000"/>
<rect x="1107" y="315" width="9" height="6" fill="#ff0000"/>
<rect x="1127" y="312" width="1" height="14" fill="#000"/>
<rect x="1122" y="314" width="11" height="10" fill="#000"/>
<rect x="1123" y="315" width="9" height="8" fill="#00ff00"/>
<rect x="1143" y="311" width="1" height="23" fill="#000"/>
<rect x="1138" y="316" width="11" height="8" fill="#000"/>
<rect x="1139" y="317" width="9" height="6" fill="#ff0000"/>
<rect x="1159" y="300" width="1" height="18" fill="#000"/>
<rect x="1154" y="304" width="11" height="13" fill="#000"/>
<rect x="1155" y="305" width="9" height="11" fill="#ff0000"/>
<rect x="1175" y="192" width="1" height="115" fill="#000"/>
<rect x="1170" y="207" width="11" height="97" fill="#000"/>
<rect x="1171" y="208" width="9" height="95" fill="#ff0000"/>
<rect x="1191" y="204" width="1" height="30" fill="#000"/>
<rect x="1186" y="205" width="11" height="3" fill="#000"/>
<rect x="1187" y="206" width="9" height="1" fill="#ff0000"/>
<rect x="1207" y="196" width="1" height="16" fill="#000"/>
<rect x="1202" y="198" width="11" height="9" fill="#000"/>
<rect x="1203" y="199" width="9" height="7" fill="#ff0000"/>
<rect x="1223" y="183" width="1" height="16" fill="#000"/>
<rect x="1218" y="184" width="11" height="15" fill="#000"/>
<rect x="1219" y="185" width="9" height="13" fill="#ff0000"/>
<rect x="1239" y="170" width="1" height="23" fill="#000"/>
<rect x="1234" y="184" width="11" height="6" fill="#000"/>
<rect x="1235" y="185" width="9" height="4" fill="#00ff00"/>
<rect x="1255" y="167" width="1" height="29" fill="#000"/>
<rect x="1250" y="171" width="11" height="19" fill="#000"/>
<rect x="1251" y="172" width="9" height="17" fill="#ff0000"/>
<rect x="1271" y="127" width="1" height="48" fill="#000"/>
<rect x="1266" y="168" width="11" height="4" fill="#000"/>
<rect x="1267" y="169" width="9" height="2" fill="#ff0000"/>
<rect x="1287" y="151" width="1" height="57" fill="#000"/>
<rect x="1282" y="168" width="11" height="30" fill="#000"/>
<rect x="1283" y="169" width="9" height="28" fill="#00ff00"/>
<rect x="1303" y="183" width="1" height="15" fill="#000"/>
<rect x="1298" y="190" width="11" height="9" fill="#000"/>
<rect x="1299" y="191" width="9" height="7" fill="#ff0000"/>
<rect x="1319" y="181" width="1" height="18" fill="#000"/>
<rect x="1314" y="189" width="11" height="2" fill="#000"/>
<rect x="1335" y="157" width="1" height="33" fill="#000"/>
<rect x="1330" y="160" width="11" height="30" fill="#000"/>
<rect x="1331" y="161" width="9" height="28" fill="#ff0000"/>
<rect x="1351" y="155" width="1" height="26" fill="#000"/>
<rect x="1346" y="160" width="11" height="14" fill="#000"/>
<rect x="1347" y="161" width="9" height="12" fill="#00ff00"/>
<rect x="1367" y="151" width="1" height="34" fill="#000"/>
<rect x="1362" y="152" width="11" height="22" fill="#000"/>
<rect x="1363" y="153" width="9" height="20" fill="#ff0000"/>
<rect x="1383" y="104" width="1" height="50" fill="#000"/>
<rect x="1378" y="106" width="11" height="47" fill="#000"/>
<rect x="1379" y="107" width="9" height="45" fill="#ff0000"/>
<rect x="0" y="106" width="1630" height="1" fill="#000"/>
<rect x="0" y="36" width="1630" height="2" fill="#ff0000"/>
<rect x="1624" y="34" width="6" height="6" fill="#ff0000"/>
<rect x="1626" y="36" width="2" height="2" fill="#fff"/>
<rect x="0" y="71" width="1630" height="2" fill="#ff0000"/>
<rect x="1624" y="69" width="6" height="6" fill="#ff0000"/>
<rect x="1626" y="71" width="2" height="2" fill="#fff"/>
<rect x="0" y="120" width="1630" height="2" fill="#ffa500"/>
<rect x="1624" y="118" width="6" height="6" fill="#ffa500"/>
<rect x="1626" y="120" width="2" height="2" fill="#fff"/>
<rect x="0" y="149" width="1630" height="2" fill="#0000ff"/>
<rect x="1624" y="147" width="6" height="6" fill="#0000ff"/>
<rect x="1626" y="149" width="2" height="2" fill="#fff"/>
<rect x="0" y="182" width="1630" height="2" fill="#0000ff"/>
<rect x="1624" y="180" width="6" height="6" fill="#0000ff"/>
<rect x="1626" y="182" width="2" height="2" fill="#fff"/>
<polygon points="1394.5,31 1404.5,31 1399.5,37" fill="#000" shape-rendering="auto"/>
<polygon points="1214.4,318.5 1306.2,253.8 1404.0,185.3 1453.5,150.1 1505.8,112.9 1508.2,116.3 1517.0,100.3 1499.0,103.6 1501.4,106.9 1449.5,144.6 1400.4,180.2 1304.2,251.1 1213.6,317.5" fill="#ff3b3b" shape-rendering="auto"/>
<rect x="1631" y="53" width="2" height="1" fill="#000"/>
<text x="1635.5" y="57" font-family="'DejaVu Sans Condensed','Liberation Sans',sans-serif" font-size="9px" letter-spacing="0.1" fill="#000">33960.0</text>
<rect x="1631" y="86" width="2" height="1" fill="#000"/>
<text x="1635.5" y="90" font-family="'DejaVu Sans Condensed','Liberation Sans',sans-serif" font-size="9px" letter-spacing="0.1" fill="#000">33807.0</text>
<rect x="1631" y="119" width="2" height="1" fill="#000"/>
<text x="1635.5" y="123" font-family="'DejaVu Sans Condensed','Liberation Sans',sans-serif" font-size="9px" letter-spacing="0.1" fill="#000">33658.5</text>
<rect x="1631" y="152" width="2" height="1" fill="#000"/>
<text x="1635.5" y="156" font-family="'DejaVu Sans Condensed','Liberation Sans',sans-serif" font-size="9px" letter-spacing="0.1" fill="#000">33505.5</text>
<rect x="1631" y="185" width="2" height="1" fill="#000"/>
<text x="1635.5" y="189" font-family="'DejaVu Sans Condensed','Liberation Sans',sans-serif" font-size="9px" letter-spacing="0.1" fill="#000">33357.0</text>
<rect x="1631" y="218" width="2" height="1" fill="#000"/>
<text x="1635.5" y="222" font-family="'DejaVu Sans Condensed','Liberation Sans',sans-serif" font-size="9px" letter-spacing="0.1" fill="#000">33204.0</text>
<rect x="1631" y="251" width="2" height="1" fill="#000"/>
<text x="1635.5" y="255" font-family="'DejaVu Sans Condensed','Liberation Sans',sans-serif" font-size="9px" letter-spacing="0.1" fill="#000">33055.5</text>
<rect x="1631" y="284" width="2" height="1" fill="#000"/>
<text x="1635.5" y="288" font-family="'DejaVu Sans Condensed','Liberation Sans',sans-serif" font-size="9px" letter-spacing="0.1" fill="#000">32902.5</text>
<rect x="1631" y="317" width="2" height="1" fill="#000"/>
<text x="1635.5" y="321" font-family="'DejaVu Sans Condensed','Liberation Sans',sans-serif" font-size="9px" letter-spacing="0.1" fill="#000">32754.0</text>
<rect x="1631" y="350" width="2" height="1" fill="#000"/>
<text x="1635.5" y="354" font-family="'DejaVu Sans Condensed','Liberation Sans',sans-serif" font-size="9px" letter-spacing="0.1" fill="#000">32601.0</text>
<rect x="1631" y="383" width="2" height="1" fill="#000"/>
<text x="1635.5" y="387" font-family="'DejaVu Sans Condensed','Liberation Sans',sans-serif" font-size="9px" letter-spacing="0.1" fill="#000">32452.5</text>
<rect x="1631" y="416" width="2" height="1" fill="#000"/>
<text x="1635.5" y="420" font-family="'DejaVu Sans Condensed','Liberation Sans',sans-serif" font-size="9px" letter-spacing="0.1" fill="#000">32299.5</text>
<rect x="1631" y="449" width="2" height="1" fill="#000"/>
<text x="1635.5" y="453" font-family="'DejaVu Sans Condensed','Liberation Sans',sans-serif" font-size="9px" letter-spacing="0.1" fill="#000">32151.0</text>
<rect x="1631" y="482" width="2" height="1" fill="#000"/>
<text x="1635.5" y="486" font-family="'DejaVu Sans Condensed','Liberation Sans',sans-serif" font-size="9px" letter-spacing="0.1" fill="#000">31998.0</text>
<rect x="1631" y="515" width="2" height="1" fill="#000"/>
<text x="1635.5" y="519" font-family="'DejaVu Sans Condensed','Liberation Sans',sans-serif" font-size="9px" letter-spacing="0.1" fill="#000">31849.5</text>
<rect x="1631" y="548" width="2" height="1" fill="#000"/>
<text x="1635.5" y="552" font-family="'DejaVu Sans Condensed','Liberation Sans',sans-serif" font-size="9px" letter-spacing="0.1" fill="#000">31701.0</text>
<rect x="1631" y="581" width="2" height="1" fill="#000"/>
<text x="1635.5" y="585" font-family="'DejaVu Sans Condensed','Liberation Sans',sans-serif" font-size="9px" letter-spacing="0.1" fill="#000">31548.0</text>
<rect x="1631" y="614" width="2" height="1" fill="#000"/>
<text x="1635.5" y="618" font-family="'DejaVu Sans Condensed','Liberation Sans',sans-serif" font-size="9px" letter-spacing="0.1" fill="#000">31399.5</text>
<rect x="1632" y="31" width="41" height="11" fill="#ff0000"/>
<text x="1635.5" y="40" font-family="'DejaVu Sans Condensed','Liberation Sans',sans-serif" font-size="9px" letter-spacing="0.1" fill="#fff">34033.4</text>
<rect x="1632" y="66" width="41" height="11" fill="#ff0000"/>
<text x="1635.5" y="75" font-family="'DejaVu Sans Condensed','Liberation Sans',sans-serif" font-size="9px" letter-spacing="0.1" fill="#fff">33873.7</text>
<rect x="1632" y="101" width="41" height="11" fill="#000000"/>
<text x="1635.5" y="110" font-family="'DejaVu Sans Condensed','Liberation Sans',sans-serif" font-size="9px" letter-spacing="0.1" fill="#fff">33715.5</text>
<rect x="1632" y="115" width="41" height="11" fill="#ffa500"/>
<text x="1635.5" y="124" font-family="'DejaVu Sans Condensed','Liberation Sans',sans-serif" font-size="9px" letter-spacing="0.1" fill="#fff">33646.9</text>
<rect x="1632" y="144" width="41" height="11" fill="#0000ff"/>
<text x="1635.5" y="153" font-family="'DejaVu Sans Condensed','Liberation Sans',sans-serif" font-size="9px" letter-spacing="0.1" fill="#fff">33518.0</text>
<rect x="1632" y="177" width="41" height="11" fill="#0000ff"/>
<text x="1635.5" y="186" font-family="'DejaVu Sans Condensed','Liberation Sans',sans-serif" font-size="9px" letter-spacing="0.1" fill="#fff">33366.2</text>
<text x="-0.46" y="632" font-family="'DejaVu Sans Condensed','Liberation Sans',sans-serif" font-size="9px" letter-spacing="0.06" fill="#000">MACD(12,26,9) 198.61 180.23</text>
<rect x="6" y="668" width="3" height="54" fill="#00ff00"/>
<rect x="22" y="669" width="3" height="53" fill="#00ff00"/>
<rect x="38" y="671" width="3" height="51" fill="#00ff00"/>
<rect x="54" y="678" width="3" height="44" fill="#00ff00"/>
<rect x="70" y="683" width="3" height="39" fill="#00ff00"/>
<rect x="86" y="686" width="3" height="36" fill="#00ff00"/>
<rect x="102" y="691" width="3" height="31" fill="#00ff00"/>
<rect x="118" y="697" width="3" height="25" fill="#00ff00"/>
<rect x="134" y="704" width="3" height="18" fill="#00ff00"/>
<rect x="150" y="705" width="3" height="17" fill="#00ff00"/>
<rect x="166" y="707" width="3" height="15" fill="#00ff00"/>
<rect x="182" y="707" width="3" height="15" fill="#00ff00"/>
<rect x="198" y="707" width="3" height="15" fill="#00ff00"/>
<rect x="214" y="707" width="3" height="15" fill="#00ff00"/>
<rect x="230" y="698" width="3" height="24" fill="#00ff00"/>
<rect x="246" y="692" width="3" height="30" fill="#00ff00"/>
<rect x="262" y="688" width="3" height="34" fill="#00ff00"/>
<rect x="278" y="685" width="3" height="37" fill="#00ff00"/>
<rect x="294" y="684" width="3" height="38" fill="#00ff00"/>
<rect x="310" y="676" width="3" height="46" fill="#00ff00"/>
<rect x="326" y="665" width="3" height="57" fill="#00ff00"/>
<rect x="342" y="658" width="3" height="64" fill="#00ff00"/>
<rect x="358" y="652" width="3" height="70" fill="#00ff00"/>
<rect x="374" y="648" width="3" height="74" fill="#00ff00"/>
<rect x="390" y="644" width="3" height="78" fill="#00ff00"/>
<rect x="406" y="640" width="3" height="82" fill="#00ff00"/>
<rect x="422" y="631" width="3" height="91" fill="#00ff00"/>
<rect x="438" y="630" width="3" height="92" fill="#00ff00"/>
<rect x="454" y="630" width="3" height="92" fill="#00ff00"/>
<rect x="470" y="629" width="3" height="93" fill="#00ff00"/>
<rect x="486" y="628" width="3" height="94" fill="#00ff00"/>
<rect x="502" y="625" width="3" height="97" fill="#00ff00"/>
<rect x="518" y="628" width="3" height="94" fill="#00ff00"/>
<rect x="534" y="633" width="3" height="89" fill="#00ff00"/>
<rect x="550" y="639" width="3" height="83" fill="#00ff00"/>
<rect x="566" y="646" width="3" height="76" fill="#00ff00"/>
<rect x="582" y="654" width="3" height="68" fill="#00ff00"/>
<rect x="598" y="660" width="3" height="62" fill="#00ff00"/>
<rect x="614" y="674" width="3" height="48" fill="#00ff00"/>
<rect x="630" y="684" width="3" height="38" fill="#00ff00"/>
<rect x="646" y="691" width="3" height="31" fill="#00ff00"/>
<rect x="662" y="697" width="3" height="25" fill="#00ff00"/>
<rect x="678" y="700" width="3" height="22" fill="#00ff00"/>
<rect x="694" y="696" width="3" height="26" fill="#00ff00"/>
<rect x="710" y="691" width="3" height="31" fill="#00ff00"/>
<rect x="726" y="688" width="3" height="34" fill="#00ff00"/>
<rect x="742" y="686" width="3" height="36" fill="#00ff00"/>
<rect x="758" y="684" width="3" height="38" fill="#00ff00"/>
<rect x="774" y="683" width="3" height="39" fill="#00ff00"/>
<rect x="790" y="685" width="3" height="37" fill="#00ff00"/>
<rect x="806" y="688" width="3" height="34" fill="#00ff00"/>
<rect x="822" y="690" width="3" height="32" fill="#00ff00"/>
<rect x="838" y="689" width="3" height="33" fill="#00ff00"/>
<rect x="854" y="690" width="3" height="32" fill="#00ff00"/>
<rect x="870" y="691" width="3" height="31" fill="#00ff00"/>
<rect x="886" y="699" width="3" height="23" fill="#00ff00"/>
<rect x="902" y="699" width="3" height="23" fill="#00ff00"/>
<rect x="918" y="701" width="3" height="21" fill="#00ff00"/>
<rect x="934" y="702" width="3" height="20" fill="#00ff00"/>
<rect x="950" y="698" width="3" height="24" fill="#00ff00"/>
<rect x="966" y="694" width="3" height="28" fill="#00ff00"/>
<rect x="982" y="692" width="3" height="30" fill="#00ff00"/>
<rect x="998" y="693" width="3" height="29" fill="#00ff00"/>
<rect x="1014" y="692" width="3" height="30" fill="#00ff00"/>
<rect x="1030" y="692" width="3" height="30" fill="#00ff00"/>
<rect x="1046" y="693" width="3" height="29" fill="#00ff00"/>
<rect x="1062" y="697" width="3" height="25" fill="#00ff00"/>
<rect x="1078" y="700" width="3" height="22" fill="#00ff00"/>
<rect x="1094" y="703" width="3" height="19" fill="#00ff00"/>
<rect x="1110" y="705" width="3" height="17" fill="#00ff00"/>
<rect x="1126" y="708" width="3" height="14" fill="#00ff00"/>
<rect x="1142" y="710" width="3" height="12" fill="#00ff00"/>
<rect x="1158" y="709" width="3" height="13" fill="#00ff00"/>
<rect x="1174" y="694" width="3" height="28" fill="#00ff00"/>
<rect x="1190" y="683" width="3" height="39" fill="#00ff00"/>
<rect x="1206" y="673" width="3" height="49" fill="#00ff00"/>
<rect x="1222" y="664" width="3" height="58" fill="#00ff00"/>
<rect x="1238" y="659" width="3" height="63" fill="#00ff00"/>
<rect x="1254" y="652" width="3" height="70" fill="#00ff00"/>
<rect x="1270" y="648" width="3" height="74" fill="#00ff00"/>
<rect x="1286" y="649" width="3" height="73" fill="#00ff00"/>
<rect x="1302" y="650" width="3" height="72" fill="#00ff00"/>
<rect x="1318" y="652" width="3" height="70" fill="#00ff00"/>
<rect x="1334" y="649" width="3" height="73" fill="#00ff00"/>
<rect x="1350" y="650" width="3" height="72" fill="#00ff00"/>
<rect x="1366" y="649" width="3" height="73" fill="#00ff00"/>
<rect x="1382" y="641" width="3" height="81" fill="#00ff00"/>
<polyline points="-8.5,650 7.5,653.0 23.5,655.7 39.5,659.0 55.5,663.5 71.5,668.5 87.5,673.0 103.5,676.0 119.5,679.5 135.5,683.0 151.5,687.0 167.5,691.0 183.5,695.5 199.5,700.0 215.5,701.8 231.5,702.5 247.5,702.7 263.5,702.7 279.5,699.4 295.5,697.3 311.5,694.4 327.5,689.7 343.5,684.7 359.5,677.0 375.5,672.6 391.5,667.2 407.5,661.2 423.5,655.5 439.5,649.3 455.5,644.3 471.5,640.5 487.5,637.2 503.5,634.3 519.5,632.2 535.5,630.4 551.5,630.0 567.5,631.9 583.5,634.3 599.5,637.9 615.5,643.3 631.5,648.6 647.5,656.5 663.5,665.1 679.5,672.6 695.5,678.4 711.5,683.4 727.5,687.0 743.5,690.1 759.5,690.8 775.5,690.8 791.5,690.1 807.5,689.2 823.5,688.0 839.5,687.0 855.5,687.0 871.5,687.2 887.5,689.8 903.5,691.5 919.5,693.7 935.5,694.4 951.5,695.8 967.5,695.8 983.5,696.5 999.5,697.0 1015.5,697.0 1031.5,696.3 1047.5,695.1 1063.5,694.8 1079.5,694.8 1095.5,695.5 1111.5,696.5 1127.5,698.3 1143.5,700.4 1159.5,701.8 1175.5,701.8 1191.5,701.5 1207.5,698.7 1223.5,694.4 1239.5,690.1 1255.5,684.4 1271.5,677.2 1287.5,670.8 1303.5,664.5 1319.5,659.5 1335.5,655.2 1351.5,653.4 1367.5,651.5 1383.5,649.8" fill="none" stroke="#ff0000" stroke-width="2" stroke-linejoin="round"/>
<rect x="1631" y="621" width="2" height="1" fill="#000"/>
<text x="1634" y="630" font-family="'DejaVu Sans Condensed','Liberation Sans',sans-serif" font-size="9px" letter-spacing="0.2" fill="#000">250.05</text>
<rect x="1631" y="722" width="2" height="1" fill="#000"/>
<text x="1634" y="720" font-family="'DejaVu Sans Condensed','Liberation Sans',sans-serif" font-size="9px" fill="#000">0</text>
<text x="-5.6" y="738" font-family="'DejaVu Sans Condensed','Liberation Sans',sans-serif" font-size="9px" letter-spacing="0.22" fill="#000">RSI(14) 75.7164</text>
<line x1="0" y1="746.5" x2="1628" y2="746.5" stroke="#000" stroke-width="1" stroke-dasharray="3,3" stroke-dashoffset="2"/>
<line x1="0" y1="776.5" x2="1628" y2="776.5" stroke="#000" stroke-width="1" stroke-dasharray="3,3" stroke-dashoffset="2"/>
<line x1="0" y1="811.5" x2="1628" y2="811.5" stroke="#000" stroke-width="1" stroke-dasharray="3,3" stroke-dashoffset="2"/>
<polyline points="-8.5,767.5 7.5,765.0 23.5,766.5 39.5,766.9 55.5,773.6 71.5,773.6 87.5,772.6 103.5,773.6 119.5,778.4 135.5,778.6 151.5,774.1 167.5,773.6 183.5,772.6 199.5,772.6 215.5,771.8 231.5,760.0 247.5,761.2 263.5,762.9 279.5,761.8 295.5,763.9 311.5,756.0 327.5,752.9 343.5,752.2 359.5,751.7 375.5,751.5 391.5,750.9 407.5,749.3 423.5,745.7 439.5,754.6 455.5,754.9 471.5,754.6 487.5,752.5 503.5,750.9 519.5,759.8 535.5,761.2 551.5,765.8 567.5,766.1 583.5,768.6 599.5,768.6 615.5,780.8 631.5,779.8 647.5,777.2 663.5,776.8 679.5,774.6 695.5,764.9 711.5,763.9 727.5,763.9 743.5,763.9 759.5,763.9 775.5,763.9 791.5,768.6 807.5,768.6 823.5,768.6 839.5,765.8 855.5,766.9 871.5,766.9 887.5,781.8 903.5,770.9 919.5,773.6 935.5,772.5 951.5,766.1 967.5,764.8 983.5,764.8 999.5,770.8 1015.5,767.9 1031.5,767.9 1047.5,769.8 1063.5,775.1 1079.5,775.1 1095.5,775.8 1111.5,775.1 1127.5,775.8 1143.5,774.3 1159.5,771.7 1175.5,754.0 1191.5,754.0 1207.5,753.6 1223.5,752.6 1239.5,752.6 1255.5,751.5 1271.5,750.9 1287.5,760.8 1303.5,759.6 1319.5,758.9 1335.5,755.8 1351.5,758.9 1367.5,756.5 1383.5,751.7" fill="none" stroke="#1e90ff" stroke-width="2" stroke-linejoin="round"/>
<rect x="1631" y="727" width="2" height="1" fill="#000"/>
<text x="1634" y="736" font-family="'DejaVu Sans Condensed','Liberation Sans',sans-serif" font-size="9px" letter-spacing="0.2" fill="#000">100</text>
<text x="1633.5" y="750" font-family="'DejaVu Sans Condensed','Liberation Sans',sans-serif" font-size="9px" letter-spacing="0.2" fill="#000">80</text>
<text x="1633.5" y="780" font-family="'DejaVu Sans Condensed','Liberation Sans',sans-serif" font-size="9px" letter-spacing="0.2" fill="#000">50</text>
<text x="1633.5" y="815" font-family="'DejaVu Sans Condensed','Liberation Sans',sans-serif" font-size="9px" letter-spacing="0.2" fill="#000">15</text>
<text x="1634" y="823" font-family="'DejaVu Sans Condensed','Liberation Sans',sans-serif" font-size="9px" letter-spacing="0.2" fill="#000">0</text>
<rect x="1631" y="826" width="2" height="1" fill="#000"/>
<text x="-10" y="839" font-family="'DejaVu Sans Condensed','Liberation Sans',sans-serif" font-size="9px" letter-spacing="0.2" fill="#000">25 Jul 2022</text>
<rect x="55" y="827" width="1" height="3" fill="#000"/>
<text x="54" y="839" font-family="'DejaVu Sans Condensed','Liberation Sans',sans-serif" font-size="9px" letter-spacing="0.2" fill="#000">25 Jul 20:00</text>
<rect x="119" y="827" width="1" height="3" fill="#000"/>
<text x="118" y="839" font-family="'DejaVu Sans Condensed','Liberation Sans',sans-serif" font-size="9px" letter-spacing="0.2" fill="#000">26 Jul 12:00</text>
<rect x="183" y="827" width="1" height="3" fill="#000"/>
<text x="182" y="839" font-family="'DejaVu Sans Condensed','Liberation Sans',sans-serif" font-size="9px" letter-spacing="0.2" fill="#000">27 Jul 04:00</text>
<rect x="247" y="827" width="1" height="3" fill="#000"/>
<text x="246" y="839" font-family="'DejaVu Sans Condensed','Liberation Sans',sans-serif" font-size="9px" letter-spacing="0.2" fill="#000">27 Jul 20:00</text>
<rect x="311" y="827" width="1" height="3" fill="#000"/>
<text x="310" y="839" font-family="'DejaVu Sans Condensed','Liberation Sans',sans-serif" font-size="9px" letter-spacing="0.2" fill="#000">28 Jul 12:00</text>
<rect x="375" y="827" width="1" height="3" fill="#000"/>
<text x="374" y="839" font-family="'DejaVu Sans Condensed','Liberation Sans',sans-serif" font-size="9px" letter-spacing="0.2" fill="#000">29 Jul 04:00</text>
<rect x="439" y="827" width="1" height="3" fill="#000"/>
<text x="438" y="839" font-family="'DejaVu Sans Condensed','Liberation Sans',sans-serif" font-size="9px" letter-spacing="0.2" fill="#000">31 Jul 23:00</text>
<rect x="503" y="827" width="1" height="3" fill="#000"/>
<text x="502" y="839" font-family="'DejaVu Sans Condensed','Liberation Sans',sans-serif" font-size="9px" letter-spacing="0.2" fill="#000">1 Aug 12:00</text>
<rect x="567" y="827" width="1" height="3" fill="#000"/>
<text x="566" y="839" font-family="'DejaVu Sans Condensed','Liberation Sans',sans-serif" font-size="9px" letter-spacing="0.2" fill="#000">2 Aug 04:00</text>
<rect x="631" y="827" width="1" height="3" fill="#000"/>
<text x="630" y="839" font-family="'DejaVu Sans Condensed','Liberation Sans',sans-serif" font-size="9px" letter-spacing="0.2" fill="#000">2 Aug 20:00</text>
<rect x="695" y="827" width="1" height="3" fill="#000"/>
<text x="694" y="839" font-family="'DejaVu Sans Condensed','Liberation Sans',sans-serif" font-size="9px" letter-spacing="0.2" fill="#000">3 Aug 12:00</text>
<rect x="759" y="827" width="1" height="3" fill="#000"/>
<text x="758" y="839" font-family="'DejaVu Sans Condensed','Liberation Sans',sans-serif" font-size="9px" letter-spacing="0.2" fill="#000">4 Aug 04:00</text>
<rect x="823" y="827" width="1" height="3" fill="#000"/>
<text x="822" y="839" font-family="'DejaVu Sans Condensed','Liberation Sans',sans-serif" font-size="9px" letter-spacing="0.2" fill="#000">4 Aug 20:00</text>
<rect x="887" y="827" width="1" height="3" fill="#000"/>
<text x="886" y="839" font-family="'DejaVu Sans Condensed','Liberation Sans',sans-serif" font-size="9px" letter-spacing="0.2" fill="#000">5 Aug 12:00</text>
<rect x="951" y="827" width="1" height="3" fill="#000"/>
<text x="950" y="839" font-family="'DejaVu Sans Condensed','Liberation Sans',sans-serif" font-size="9px" letter-spacing="0.2" fill="#000">8 Aug 04:00</text>
<rect x="1015" y="827" width="1" height="3" fill="#000"/>
<text x="1014" y="839" font-family="'DejaVu Sans Condensed','Liberation Sans',sans-serif" font-size="9px" letter-spacing="0.2" fill="#000">8 Aug 20:00</text>
<rect x="1079" y="827" width="1" height="3" fill="#000"/>
<text x="1078" y="839" font-family="'DejaVu Sans Condensed','Liberation Sans',sans-serif" font-size="9px" letter-spacing="0.2" fill="#000">9 Aug 12:00</text>
<rect x="1143" y="827" width="1" height="3" fill="#000"/>
<text x="1142" y="839" font-family="'DejaVu Sans Condensed','Liberation Sans',sans-serif" font-size="9px" letter-spacing="0.2" fill="#000">10 Aug 04:00</text>
<rect x="1207" y="827" width="1" height="3" fill="#000"/>
<text x="1206" y="839" font-family="'DejaVu Sans Condensed','Liberation Sans',sans-serif" font-size="9px" letter-spacing="0.2" fill="#000">10 Aug 20:00</text>
<rect x="1271" y="827" width="1" height="3" fill="#000"/>
<text x="1270" y="839" font-family="'DejaVu Sans Condensed','Liberation Sans',sans-serif" font-size="9px" letter-spacing="0.2" fill="#000">11 Aug 12:00</text>
<rect x="1335" y="827" width="1" height="3" fill="#000"/>
<text x="1334" y="839" font-family="'DejaVu Sans Condensed','Liberation Sans',sans-serif" font-size="9px" letter-spacing="0.2" fill="#000">12 Aug 04:00</text>
<rect x="1676" y="29" width="1" height="819" fill="#d4d4d4"/>
<rect x="0" y="847" width="1677" height="1" fill="#d4d4d4"/>
</g>
</svg>
</body></html>
